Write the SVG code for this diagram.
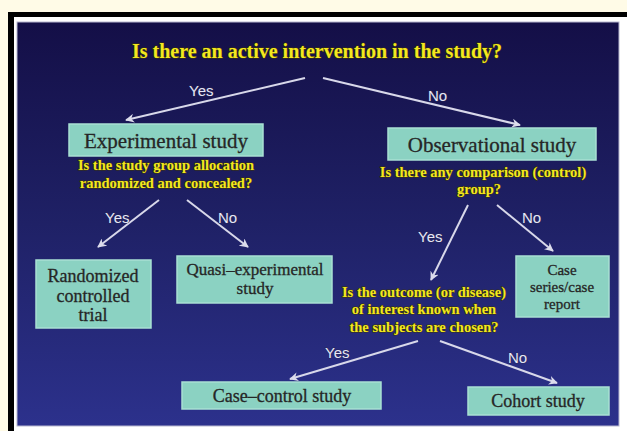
<svg xmlns="http://www.w3.org/2000/svg" width="627" height="431" viewBox="0 0 627 431">
<defs>
<linearGradient id="bg" x1="0" y1="0" x2="0" y2="1">
<stop offset="0" stop-color="#140f47"/>
<stop offset="0.5" stop-color="#1f2166"/>
<stop offset="1" stop-color="#2c318c"/>
</linearGradient>
<marker id="ah" viewBox="0 0 10 10" refX="9" refY="5" markerWidth="4.5" markerHeight="4.5" orient="auto" markerUnits="strokeWidth">
<path d="M0,0 L10,5 L0,10 L3,5 z" fill="#dcdcec"/>
</marker>
<style>
.box{fill:#8bd2c2;stroke:#a9e0d3;stroke-width:1.5}
.bt{font-family:"Liberation Serif","Times New Roman",serif;fill:#262626;text-anchor:middle;stroke:#262626;stroke-width:0.3}
.q{font-family:"Liberation Serif","Times New Roman",serif;font-weight:bold;fill:#f3e820;text-anchor:middle;stroke:#3d3506;stroke-width:1.1;paint-order:stroke}
.lbl{font-family:"Liberation Sans",Arial,sans-serif;font-size:15px;fill:#e6e6f6;stroke:#2a2a55;stroke-width:0.8;paint-order:stroke}
.arr{stroke:#d8d8ea;stroke-width:2;fill:none;marker-end:url(#ah)}
</style>
</defs>
<rect x="0" y="0" width="627" height="431" fill="#fffbe7"/>
<rect x="8" y="12" width="619" height="419" fill="#000"/>
<rect x="14" y="17" width="613" height="414" fill="#fff"/>
<rect x="17" y="22" width="602" height="404" fill="url(#bg)" stroke="#b8b8d0" stroke-width="1"/>

<g id="title">
<text class="q" x="317" y="58" font-size="20">Is there an active intervention in the study?</text>
</g>

<g id="connectors">
<line class="arr" x1="305" y1="78" x2="126" y2="120"/>
<line class="arr" x1="323" y1="78" x2="520" y2="125"/>
<line class="arr" x1="159" y1="200" x2="98" y2="247"/>
<line class="arr" x1="187" y1="200" x2="248" y2="247"/>
<line class="arr" x1="468" y1="205" x2="431" y2="280"/>
<line class="arr" x1="497" y1="205" x2="553" y2="251"/>
<line class="arr" x1="418" y1="341" x2="290" y2="379"/>
<line class="arr" x1="440" y1="341" x2="557" y2="383"/>
<text class="lbl" x="189" y="96">Yes</text>
<text class="lbl" x="428" y="101">No</text>
<text class="lbl" x="105" y="223">Yes</text>
<text class="lbl" x="218" y="223">No</text>
<text class="lbl" x="418" y="242">Yes</text>
<text class="lbl" x="522" y="223">No</text>
<text class="lbl" x="325" y="358">Yes</text>
<text class="lbl" x="508" y="363">No</text>
</g>

<g id="experimental">
<rect class="box" x="69" y="124" width="194" height="32"/>
<text class="bt" x="166" y="148" font-size="21">Experimental study</text>
<text class="q" x="166" y="170" font-size="14.5">Is the study group allocation</text>
<text class="q" x="166" y="188" font-size="14.5">randomized and concealed?</text>
</g>

<g id="observational">
<rect class="box" x="388" y="128" width="208" height="32"/>
<text class="bt" x="492" y="152" font-size="21">Observational study</text>
<text class="q" x="483" y="177" font-size="14.5">Is there any comparison (control)</text>
<text class="q" x="479" y="194" font-size="14.5">group?</text>
</g>

<g id="rct">
<rect class="box" x="36" y="260" width="115" height="68"/>
<text class="bt" x="93" y="282" font-size="18">Randomized</text>
<text class="bt" x="93" y="302" font-size="18">controlled</text>
<text class="bt" x="93" y="321" font-size="18">trial</text>
</g>

<g id="quasi">
<rect class="box" x="177" y="256" width="155" height="47"/>
<text class="bt" x="255" y="275" font-size="17">Quasi–experimental</text>
<text class="bt" x="255" y="294" font-size="17">study</text>
</g>

<g id="caseseries">
<rect class="box" x="516" y="256" width="93" height="61"/>
<text class="bt" x="562" y="275" font-size="15">Case</text>
<text class="bt" x="562" y="292" font-size="15">series/case</text>
<text class="bt" x="562" y="309" font-size="15">report</text>
</g>

<g id="outcome">
<text class="q" x="424" y="297" font-size="14.5">Is the outcome (or disease)</text>
<text class="q" x="424" y="314" font-size="14.5">of interest known when</text>
<text class="q" x="424" y="332" font-size="14.5">the subjects are chosen?</text>
</g>

<g id="casecontrol">
<rect class="box" x="182" y="382" width="199" height="27"/>
<text class="bt" x="282" y="402" font-size="18">Case–control study</text>
</g>

<g id="cohort">
<rect class="box" x="468" y="387" width="141" height="28"/>
<text class="bt" x="538" y="407" font-size="18">Cohort study</text>
</g>
</svg>
